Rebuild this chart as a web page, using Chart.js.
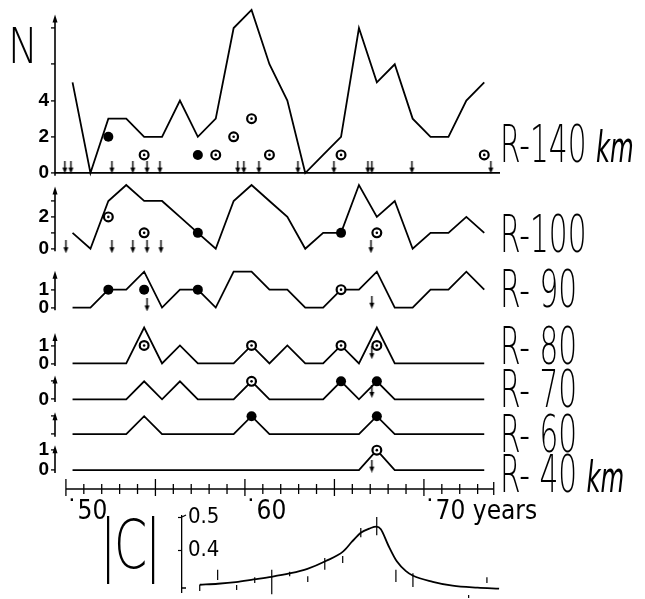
<!DOCTYPE html>
<html>
<head>
<meta charset="utf-8">
<script src="https://cdn.jsdelivr.net/npm/chart.js@4.4.1/dist/chart.umd.min.js"></script>
<style>
  body { margin: 0; background: #fff; }
  #wrap { position: relative; width: 645px; height: 599px; overflow: hidden; background: #fff; }
  canvas { position: absolute; left: 0; }
  #main { top: 0; }
  #coh { top: 500px; }
  .lbl {
    position: absolute; color: #000; white-space: nowrap;
    font-family: "DejaVu Sans", sans-serif; font-weight: 200;
    font-size: 51px; line-height: 51px;
    transform: scaleX(0.58); transform-origin: 0 0;
  }
  .lbl .gap { word-spacing: 21px; }
  .km { font-size: 42px; font-style: italic; }
</style>
</head>
<body>
<div id="wrap">
  <canvas id="main" width="645" height="535"></canvas>
  <canvas id="coh" width="645" height="99"></canvas>

  <div class="lbl" style="left:8px;top:21px;font-size:50px;line-height:50px;transform:scaleX(0.8)">N</div>
  <div class="lbl" style="left:500px;top:119px">R-140 <span class="km">km</span></div>
  <div class="lbl" style="left:500px;top:209px">R-100</div>
  <div class="lbl gap" style="left:500px;top:264px">R- 90</div>
  <div class="lbl gap" style="left:500px;top:321px">R- 80</div>
  <div class="lbl gap" style="left:500px;top:364px">R- 70</div>
  <div class="lbl gap" style="left:500px;top:409px">R- 60</div>
  <div class="lbl gap" style="left:500px;top:449px">R- 40 <span class="km" style="word-spacing:0">km</span></div>
  <div class="lbl" style="left:100px;top:511px;font-size:68px;line-height:68px;transform:scaleX(0.7);letter-spacing:-3px">|C|</div>
</div>

<script>
// --- DADOS ---
const years = [1950, 1951, 1952, 1953, 1954, 1955, 1956, 1957, 1958, 1959, 1960, 1961,
               1962, 1963, 1964, 1965, 1966, 1967, 1968, 1969, 1970, 1971, 1972, 1973];

const n140 = [5, 0, 3, 3, 2, 2, 4, 2, 3, 8, 9, 6, 4, 0, 1, 2, 8, 5, 6, 3, 2, 2, 4, 5];
const n100 = [1, 0, 3, 4, 3, 3, 2, 1, 0, 3, 4, 3, 2, 0, 1, 1, 4, 2, 3, 0, 1, 1, 2, 1];
const n90  = [0, 0, 1, 1, 2, 0, 1, 1, 0, 2, 2, 1, 1, 0, 0, 1, 1, 2, 0, 0, 1, 1, 2, 1];
const n80  = [0, 0, 0, 0, 2, 0, 1, 0, 0, 0, 1, 0, 1, 0, 0, 1, 0, 2, 0, 0, 0, 0, 0, 0];
const n70  = [0, 0, 0, 0, 1, 0, 1, 0, 0, 0, 1, 0, 0, 0, 0, 1, 0, 1, 0, 0, 0, 0, 0, 0];
const n60  = [0, 0, 0, 0, 1, 0, 0, 0, 0, 0, 1, 0, 0, 0, 0, 0, 0, 1, 0, 0, 0, 0, 0, 0];
const n40  = [0, 0, 0, 0, 0, 0, 0, 0, 0, 0, 0, 0, 0, 0, 0, 0, 0, 1, 0, 0, 0, 0, 0, 0];

// pontos cheios / circulados: [ano, N]
const solid140 = [[1952, 2], [1957, 1]];
const ring140  = [[1954, 1], [1958, 1], [1959, 2], [1960, 3], [1961, 1], [1965, 1], [1973, 1]];
const solid100 = [[1957, 1], [1965, 1]];
const ring100  = [[1952, 2], [1954, 1], [1967, 1]];
const solid90  = [[1952, 1], [1954, 1], [1957, 1]];
const ring90   = [[1965, 1]];
const solid80  = [];
const ring80   = [[1954, 1], [1960, 1], [1965, 1], [1967, 1]];
const solid70  = [[1965, 1], [1967, 1]];
const ring70   = [[1960, 1]];
const solid60  = [[1960, 1], [1967, 1]];
const ring60   = [];
const solid40  = [];
const ring40   = [[1967, 1]];

// setas (instante do evento, nível)
const arrows140 = [[1949.94, 0.33], [1950.28, 0.33], [1952.57, 0.33], [1953.74, 0.33], [1954.53, 0.33],
                   [1955.25, 0.33], [1959.6, 0.33], [1959.94, 0.33], [1960.78, 0.33], [1962.96, 0.33],
                   [1964.97, 0.33], [1966.87, 0.33], [1967.09, 0.33], [1969.33, 0.33], [1973.74, 0.33]];
const arrows100 = [[1950.0, 0.13], [1952.57, 0.13], [1953.74, 0.13], [1954.53, 0.13], [1955.31, 0.13], [1967.04, 0.13]];
const arrows90  = [[1954.53, 0.15], [1967.09, 0.3]];
const arrows80  = [[1967.09, 0.6]];
const arrows70  = [[1967.09, 0.44]];
const arrows60  = [];
const arrows40  = [[1967.09, 0.2]];

// eixo dos anos
const xTickYears = [1950, 1951, 1952, 1953, 1954, 1955, 1956, 1957, 1958, 1959, 1960, 1961, 1962,
                    1963, 1964, 1965, 1966, 1967, 1968, 1969, 1970, 1971, 1972, 1973];
const xTickLabels = { 1950: '\u02D950', 1960: '\u02D960', 1970: '\u02D970 years' };

// |C|
const cYears  = [1957.5, 1958.5, 1959.5, 1960.5, 1961.5, 1962.5, 1963.5, 1964.5, 1965.5, 1966.0,
                 1966.5, 1967.0, 1967.35, 1967.6, 1968.0, 1968.5, 1969.0, 1969.4, 1970.5, 1971.6, 1973.0, 1974.2];
const cValues = [0.297, 0.300, 0.305, 0.313, 0.321, 0.331, 0.345, 0.368, 0.398, 0.428,
                 0.455, 0.468, 0.473, 0.465, 0.418, 0.367, 0.338, 0.324, 0.306, 0.294, 0.288, 0.285];
const markYears = [1957.49, 1958.49, 1959.55, 1960.56, 1961.51, 1962.51, 1963.52, 1964.47, 1965.47,
                   1966.48, 1967.37, 1968.44, 1969.39, 1972.5, 1973.52];
const markLo = [0.278, 0.311, 0.281, 0.302, 0.268, 0.323, 0.305, 0.342, 0.363, 0.441, 0.447, 0.305, 0.290, 0.257, 0.302];
const markHi = [0.298, 0.342, 0.296, 0.320, 0.342, 0.336, 0.323, 0.378, 0.384, 0.469, 0.502, 0.342, 0.332, 0.266, 0.320];
const cTicks = [0.4, 0.5];

// --- LAYOUT DOS PAINÉIS ---
const MID = 0.37;              // contagem anual desenhada no meio do ano
const X_MIN = 1949.39, X_MAX = 1974.25, AXIS_END = 1973.9;
const BLACK = '#000';
const tickFont = { family: '"Liberation Sans", Arial, sans-serif', size: 19, weight: 'bold' };
const thinFont = (size) => ({ family: '"Liberation Sans Narrow", "DejaVu Sans Condensed", "DejaVu Sans", sans-serif', size: size });

const panels = [
  { id: 'y140', data: n140, solid: solid140, ring: ring140, arrows: arrows140, min: -0.44, max: 9.18, h: 175, ticks: [0, 2, 4, 6, 8], shown: [0, 2, 4], top: 8.74, base: true },
  { id: 'y100', data: n100, solid: solid100, ring: ring100, arrows: arrows100, min: -0.5, max: 4.25, h: 76, ticks: [0, 1, 2, 3], shown: [0, 2], top: 3.9 },
  { id: 'y90', data: n90, solid: solid90, ring: ring90, arrows: arrows90, min: -0.611, max: 2.833, h: 62, ticks: [0, 1], shown: [0, 1], top: 2.05 },
  { id: 'y80', data: n80, solid: solid80, ring: ring80, arrows: arrows80, min: -0.5, max: 2.5, h: 54, ticks: [0, 1], shown: [0, 1], top: 1.7 },
  { id: 'y70', data: n70, solid: solid70, ring: ring70, arrows: arrows70, min: -0.5, max: 1.5, h: 36, ticks: [0, 1], shown: [0], top: 1.33 },
  { id: 'y60', data: n60, solid: solid60, ring: ring60, arrows: arrows60, min: -0.5, max: 1.444, h: 35, ticks: [0, 1], shown: [], top: 1.22 },
  { id: 'y40', data: n40, solid: solid40, ring: ring40, arrows: arrows40, min: -0.95, max: 1.35, h: 46, ticks: [0, 1], shown: [0, 1], top: 1.25 }
];

function makeArrow() {
  const c = document.createElement('canvas');
  c.width = 7; c.height = 13;
  const g = c.getContext('2d');
  g.strokeStyle = BLACK; g.lineWidth = 1.4;
  g.beginPath(); g.moveTo(3.5, 0); g.lineTo(3.5, 9); g.stroke();
  g.fillStyle = BLACK;
  g.beginPath(); g.moveTo(1, 7); g.lineTo(6, 7); g.lineTo(3.5, 13); g.closePath(); g.fill();
  return c;
}
const arrowImg = makeArrow();

// --- DATASETS ---
const datasets = [];
const scales = {
  x: {
    type: 'linear', position: 'bottom', min: X_MIN, max: X_MAX,
    border: { display: false },
    grid: { display: true, drawOnChartArea: false, color: 'rgba(0,0,0,0)', tickLength: 6 },
    afterBuildTicks: s => { s.ticks = xTickYears.map(v => ({ value: v })); },
    afterFit: s => { s.height = 46; s.paddingLeft = 0; s.paddingRight = 0; },
    ticks: {
      autoSkip: false, maxRotation: 0, align: 'start', padding: 2, color: BLACK,
      font: thinFont(26),
      callback: v => xTickLabels[v] || ''
    }
  }
};

panels.forEach((p, i) => {
  scales[p.id] = {
    type: 'linear', position: 'left', stack: 'panels', stackWeight: p.h, weight: panels.length - i,
    min: p.min, max: p.max,
    border: { display: false },
    grid: {
      drawOnChartArea: !!p.base,
      color: c => (p.base && c.tick && c.tick.value === 0) ? BLACK : 'rgba(0,0,0,0)',
      lineWidth: 1.8, tickColor: BLACK, tickLength: 4, tickWidth: 1.3
    },
    afterBuildTicks: s => { s.ticks = p.ticks.map(v => ({ value: v })); },
    afterFit: s => { s.width = 55; s.paddingTop = 0; s.paddingBottom = 0; },
    ticks: { autoSkip: false, padding: 2, color: BLACK, font: tickFont, callback: v => p.shown.includes(v) ? String(v) : '' }
  };

  datasets.push({
    data: p.data.map((v, k) => ({ x: years[k] + MID, y: v })), yAxisID: p.id,
    borderColor: BLACK, borderWidth: 1.8, pointRadius: 0, tension: 0, order: 3
  });
  datasets.push({
    data: p.solid.map(([yr, v]) => ({ x: yr + MID, y: v })), yAxisID: p.id, showLine: false,
    pointRadius: 5, pointBackgroundColor: BLACK, pointBorderWidth: 0, order: 1
  });
  datasets.push({
    data: p.ring.map(([yr, v]) => ({ x: yr + MID, y: v })), yAxisID: p.id, showLine: false,
    pointRadius: 4.4, pointBackgroundColor: '#fff', pointBorderColor: BLACK, pointBorderWidth: 2.2, order: 1
  });
  datasets.push({
    data: p.ring.map(([yr, v]) => ({ x: yr + MID, y: v })), yAxisID: p.id, showLine: false,
    pointRadius: 1.3, pointBackgroundColor: BLACK, pointBorderWidth: 0, order: 0
  });
  datasets.push({
    data: p.arrows.map(([t, lvl]) => ({ x: t, y: lvl })), yAxisID: p.id, showLine: false,
    pointStyle: arrowImg, order: 2
  });
});

// eixos desenhados à mão
const eixos = {
  id: 'eixos',
  afterDatasetsDraw(chart) {
    const ctx = chart.ctx;
    const x = chart.scales.x;
    const yb = chart.chartArea.bottom;
    ctx.save();
    ctx.strokeStyle = BLACK; ctx.fillStyle = BLACK;
    ctx.lineWidth = 1.6;
    ctx.beginPath();
    ctx.moveTo(x.getPixelForValue(xTickYears[0]), yb);
    ctx.lineTo(x.getPixelForValue(AXIS_END), yb);
    ctx.stroke();
    ctx.lineWidth = 1.3;
    xTickYears.forEach(t => {
      const px = x.getPixelForValue(t);
      const big = t % 5 === 0;
      ctx.beginPath(); ctx.moveTo(px, yb - (big ? 10 : 5)); ctx.lineTo(px, yb + (big ? 7 : 5)); ctx.stroke();
    });
    const pe = x.getPixelForValue(AXIS_END);
    ctx.beginPath(); ctx.moveTo(pe, yb - 7); ctx.lineTo(pe, yb + 6); ctx.stroke();

    panels.forEach(p => {
      const s = chart.scales[p.id];
      const ax = s.right;
      const y0 = s.getPixelForValue(-0.15), y1 = s.getPixelForValue(p.top);
      ctx.lineWidth = 1.6;
      ctx.beginPath(); ctx.moveTo(ax, y0); ctx.lineTo(ax, y1 + 4); ctx.stroke();
      ctx.beginPath(); ctx.moveTo(ax - 2.5, y1 + 8); ctx.lineTo(ax + 2.5, y1 + 8); ctx.lineTo(ax, y1); ctx.closePath(); ctx.fill();
    });
    ctx.restore();
  }
};

new Chart(document.getElementById('main'), {
  type: 'line',
  data: { datasets: datasets },
  options: {
    responsive: false, animation: false, devicePixelRatio: 1, events: [],
    layout: { padding: { top: 5, right: 145, left: 0, bottom: 0 } },
    plugins: { legend: { display: false }, tooltip: { enabled: false } },
    scales: scales
  },
  plugins: [eixos]
});

// --- PAINEL |C| ---
const colchete = {
  id: 'colchete',
  afterDraw(chart) {
    const s = chart.scales.y, ctx = chart.ctx;
    const ax = s.right, t = chart.chartArea.top, b = chart.chartArea.bottom - 4;
    ctx.save();
    ctx.strokeStyle = BLACK; ctx.lineWidth = 1.3;
    ctx.beginPath(); ctx.moveTo(ax + 4, t - 1); ctx.lineTo(ax, t + 1); ctx.moveTo(ax, b); ctx.lineTo(ax + 4, b); ctx.stroke();
    ctx.restore();
  }
};

const markPts = [];
markYears.forEach((yr, i) => {
  markPts.push({ x: yr, y: markLo[i] }, { x: yr, y: markHi[i] }, { x: yr, y: null });
});

new Chart(document.getElementById('coh'), {
  type: 'line',
  data: {
    datasets: [
      { data: cYears.map((yr, i) => ({ x: yr, y: cValues[i] })), borderColor: BLACK, borderWidth: 1.8,
        pointRadius: 0, cubicInterpolationMode: 'monotone', clip: false },
      { data: markPts, borderColor: BLACK, borderWidth: 1.2, pointRadius: 0, spanGaps: false, clip: false }
    ]
  },
  options: {
    responsive: false, animation: false, devicePixelRatio: 1, events: [],
    layout: { padding: { top: 16, right: 145, left: 172, bottom: 7 } },
    plugins: { legend: { display: false }, tooltip: { enabled: false } },
    scales: {
      x: { type: 'linear', min: 1956.5, max: X_MAX, display: false },
      y: {
        type: 'linear', position: 'left', min: 0.275, max: 0.505,
        border: { display: true, color: BLACK, width: 1.3 },
        grid: { drawOnChartArea: false, tickColor: BLACK, tickLength: 4, tickWidth: 1.2 },
        afterBuildTicks: s => { s.ticks = cTicks.map(v => ({ value: v })); },
        afterFit: s => { s.width = 10; s.paddingTop = 0; s.paddingBottom = 0; },
        ticks: { mirror: true, padding: 6, color: BLACK, font: thinFont(22), callback: v => v.toFixed(1) }
      }
    }
  },
  plugins: [colchete]
});
</script>
</body>
</html>
